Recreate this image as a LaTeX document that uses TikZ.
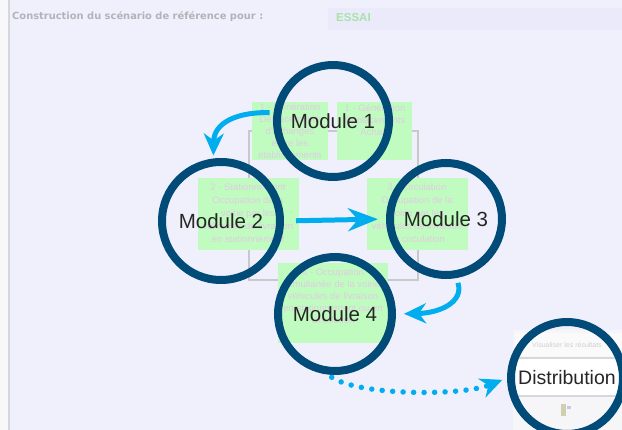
\documentclass[tikz,border=0pt]{standalone}
\usepackage{fontspec}
\setmainfont{Liberation Sans}
\newfontfamily\dejab{DejaVu Sans}
\usetikzlibrary{arrows.meta}
\definecolor{bg}{RGB}{240,240,252}
\definecolor{ring}{RGB}{0,75,120}
\definecolor{cyanA}{RGB}{0,174,239}
\definecolor{paleg}{RGB}{192,252,192}
\definecolor{ghost}{RGB}{224,204,226}
\definecolor{hdr}{RGB}{178,178,184}
\definecolor{essaig}{RGB}{168,226,168}
\definecolor{hdrbox}{RGB}{234,234,250}
\definecolor{framec}{RGB}{200,200,205}
\tikzset{
  ring/.style={circle, draw=ring, line width=8pt, inner sep=0pt, text=black!85,
    font=\fontsize{20.5}{22}\selectfont},
  ghosttext/.style={align=center, text=ghost, inner sep=0pt,
    font=\fontsize{9.5}{12}\selectfont},
  flow/.style={draw=cyanA, line width=5pt},
  headA/.style={-{Stealth[length=22pt,width=20pt,inset=7pt]}},
}
\begin{document}
\begin{tikzpicture}[x=1pt,y=-1pt]
\useasboundingbox (0,0) rectangle (622,430);
\fill[bg] (0,0) rectangle (622,430);
\fill[color={rgb,255:red,248;green,248;blue,250}] (0,0) rectangle (8,430);
\draw[color={rgb,255:red,214;green,214;blue,222}, line width=1.5pt] (9,0) -- (9,430);
% header
\node[anchor=west, inner sep=0pt, text=hdr, font=\dejab\bfseries\fontsize{9.9}{11}\selectfont] (title) at (12,17) {Construction du scénario de référence pour :};
\fill[hdrbox] (328,8) rectangle (622,30);
\node[anchor=west, inner sep=0pt, text=essaig, font=\bfseries\fontsize{11.5}{13}\selectfont] (essai) at (336,18) {ESSAI};
% frame
\draw[framec, line width=1.5pt] (249,131) rectangle (418,280);
% green boxes
\fill[paleg] (252,102) rectangle (328,160);
\fill[paleg] (337,102) rectangle (412,160);
\fill[paleg] (198,178) rectangle (299,250);
\fill[paleg] (367,178) rectangle (468,250);
\fill[paleg] (278,263) rectangle (388,343);
\node[ghosttext] (ta) at (290,131) {1 - Génération\\Déplacements\\d'échanges\\entre les\\établissements};
\node[ghosttext] (tb) at (375,120) {1 - Génération\\Déplacements\\Achats};
\node[ghosttext, font=\fontsize{9.5}{13}\selectfont] (tc) at (248,213) {2 - Stationnement\\Occupation de la\\voirie par les\\véhicules de livraison\\en stationnement};
\node[ghosttext, font=\fontsize{9.5}{13}\selectfont] (td) at (417,213) {3 - Circulation\\Occupation de la\\voirie par les\\véhicules de livraison\\en circulation};
\node[ghosttext] (te) at (333,296) {4 - Occupation\\simultanée de la voirie\\véhicules de livraison\\en stationnement ou en\\circulation};
% distribution panel
\fill[color={rgb,255:red,246;green,246;blue,248}] (513,330) rectangle (622,430);
\fill[color={rgb,255:red,250;green,250;blue,251}] (515,333) rectangle (622,356);
\node[inner sep=0pt, text={rgb,255:red,208;green,208;blue,214}, font=\fontsize{7}{8}\selectfont] (vis) at (567,345) {Visualiser les résultats};
\fill[white] (513,359) rectangle (622,395);
\draw[framec!70, line width=1.5pt] (513,358) -- (622,358);
\draw[framec!70, line width=1.5pt] (513,396) -- (622,396);
\fill[color={rgb,255:red,210;green,206;blue,180}] (561,404) rectangle (566,416);
\fill[color={rgb,255:red,200;green,200;blue,230}] (567,406) rectangle (571,409);
% modules
\node[ring, minimum size=112pt] (m1) at (333,121) {Module 1};
\node[ring, minimum size=118pt] (m2) at (221,221) {Module 2};
\node[ring, minimum size=112pt] (m3) at (446,219) {Module 3};
\node[ring, minimum size=114pt] (m4) at (335,314) {Module 4};
\node[ring, minimum size=112pt, font=\fontsize{19.5}{21}\selectfont] (dist) at (567,378) {Distribution};
% arrows
\draw[flow, headA, shorten <=4pt, shorten >=3pt] (m1.172) .. controls (238,112) and (214,122) .. (m2.97);
\draw[flow, -{Stealth[length=30pt,width=23pt,inset=10pt]}, shorten <=12pt, shorten >=8pt] (m2.east) -- (m3.west);
\draw[flow, headA, shorten <=5pt, shorten >=8pt] (m3.-80) .. controls (464,302) and (440,313) .. (m4.east);
\draw[draw=cyanA, line width=5.5pt, line cap=round, dash pattern=on 0pt off 10.5pt, headA, shorten <=5pt, shorten >=5pt] (m4.-97) .. controls (360,396) and (462,396) .. (dist.west);
\end{tikzpicture}
\end{document}
